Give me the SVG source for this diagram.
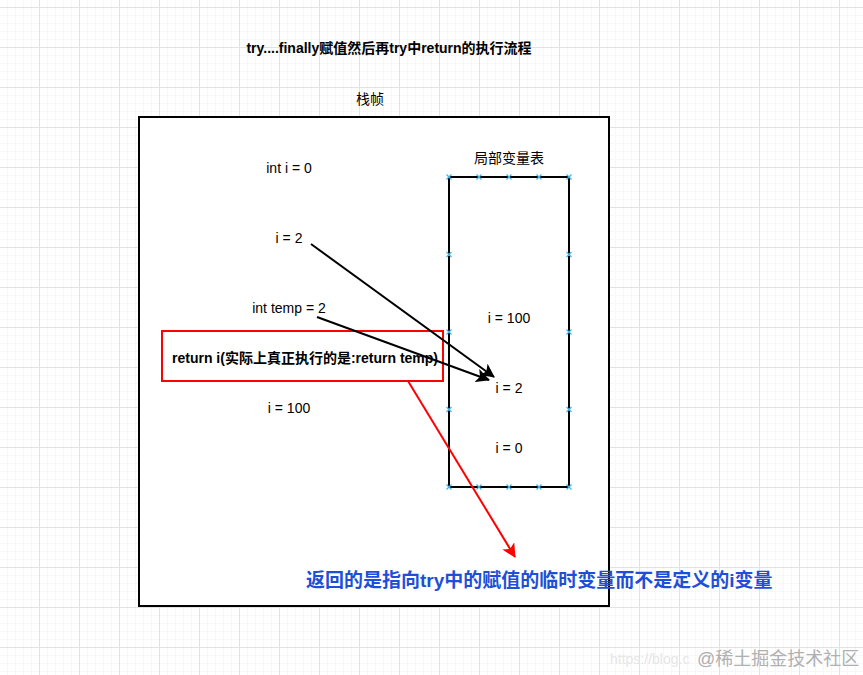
<svg xmlns="http://www.w3.org/2000/svg" width="863" height="675" viewBox="0 0 863 675">
<defs>
<pattern id="minor" patternUnits="userSpaceOnUse" x="-1" y="7" width="8" height="8">
<path d="M0 0.5H8M0.5 0V8" stroke="#f7f7f7" stroke-width="1" fill="none"/>
</pattern>
<pattern id="major" patternUnits="userSpaceOnUse" x="-1" y="7" width="40" height="40">
<path d="M0 0.5H40M0.5 0V40" stroke="#e2e2e2" stroke-width="1" fill="none"/>
</pattern>
<marker id="ahB2" viewBox="0 0 14 14" refX="13" refY="7" markerWidth="14" markerHeight="14" markerUnits="userSpaceOnUse" orient="auto">
<path d="M0 0L14 7L0 14L3.5 7Z" fill="#000"/>
</marker>
<marker id="ahR" viewBox="0 0 14 14" refX="13" refY="7" markerWidth="14" markerHeight="14" markerUnits="userSpaceOnUse" orient="auto">
<path d="M0 0L14 7L0 14L3.5 7Z" fill="#ff0000"/>
</marker>
<g id="xm"><path d="M-2.5 -2.5L2.5 2.5M-2.5 2.5L2.5 -2.5" stroke="#3fb4ea" stroke-width="1.2"/></g>
</defs>
<style>
text{font-family:"Liberation Sans","Noto Sans CJK SC",sans-serif;fill:#000}
.t{font-size:14px}
.b{font-weight:bold}
</style>
<rect width="863" height="675" fill="#fff"/>
<rect width="863" height="675" fill="url(#minor)"/>
<rect width="863" height="675" fill="url(#major)"/>

<g id="title"><text class="t b" x="389" y="53" text-anchor="middle">try....finally赋值然后再try中return的执行流程</text></g>
<g id="frame-label"><text class="t" x="370" y="104" text-anchor="middle">栈帧</text></g>
<g id="stack-frame"><rect x="139" y="117" width="470" height="489" fill="#fff" stroke="#000" stroke-width="2"/></g>

<g id="lvt-label"><text class="t" x="509" y="163" text-anchor="middle">局部变量表</text></g>
<g id="local-var-table">
<rect x="449" y="177" width="120" height="310" fill="#fff" stroke="#000" stroke-width="2"/>
<use href="#xm" x="449" y="177"/><use href="#xm" x="479" y="177"/><use href="#xm" x="509" y="177"/><use href="#xm" x="539" y="177"/><use href="#xm" x="569" y="177"/>
<use href="#xm" x="449" y="487"/><use href="#xm" x="479" y="487"/><use href="#xm" x="509" y="487"/><use href="#xm" x="539" y="487"/><use href="#xm" x="569" y="487"/>
<use href="#xm" x="449" y="254.5"/><use href="#xm" x="449" y="332"/><use href="#xm" x="449" y="409.5"/>
<use href="#xm" x="569" y="254.5"/><use href="#xm" x="569" y="332"/><use href="#xm" x="569" y="409.5"/>
<text class="t" x="509" y="323" text-anchor="middle">i = 100</text>
<text class="t" x="509" y="393" text-anchor="middle">i = 2</text>
<text class="t" x="509" y="453" text-anchor="middle">i = 0</text>
</g>

<g id="n-int-i"><text class="t" x="289" y="173" text-anchor="middle">int i = 0</text></g>
<g id="n-i2"><text class="t" x="289" y="243" text-anchor="middle">i = 2</text></g>
<g id="n-temp"><text class="t" x="289" y="313" text-anchor="middle">int temp = 2</text></g>
<g id="n-return">
<rect x="162" y="331" width="281" height="50" fill="#fff" stroke="#ff0000" stroke-width="2"/>
<text class="t b" x="305" y="363" text-anchor="middle">return i(实际上真正执行的是:return temp)</text>
</g>
<g id="n-i100"><text class="t" x="289" y="413" text-anchor="middle">i = 100</text></g>

<g id="connectors" fill="none">
<line x1="311" y1="244" x2="494" y2="377" stroke="#000" stroke-width="2" marker-end="url(#ahB2)"/>
<line x1="317" y1="317" x2="489" y2="380" stroke="#000" stroke-width="2" marker-end="url(#ahB2)"/>
<line x1="408" y1="381" x2="515" y2="557" stroke="#ff0000" stroke-width="2" marker-end="url(#ahR)"/>
</g>

<g id="note"><text x="306" y="587" font-size="19" font-weight="bold" style="fill:#1e4fd8">返回的是指向try中的赋值的临时变量而不是定义的i变量</text></g>

<g id="watermark">
<text x="610" y="664" font-size="14" style="fill:#e6e6e6">https://blog.c</text>
<text x="697" y="665" font-size="18" style="fill:#b0b0b0">@稀土掘金技术社区</text>
</g>
</svg>
